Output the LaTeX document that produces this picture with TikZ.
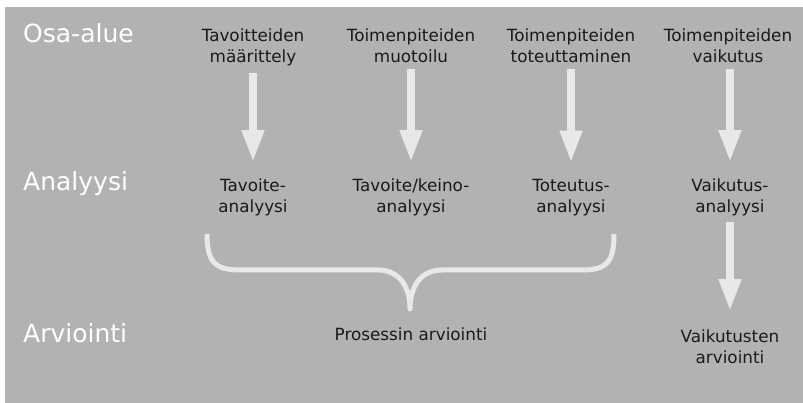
\documentclass[tikz,border=0pt]{standalone}
\usepackage{fontspec}
\setmainfont{DejaVu Sans}
\usetikzlibrary{arrows.meta}
\definecolor{bggray}{HTML}{B2B2B2}
\definecolor{arrowgray}{HTML}{E8E8E8}
\definecolor{txt}{HTML}{1A1A1A}
\tikzset{
  rowlabel/.style={anchor=base west, inner sep=0pt, text=white, font=\fontsize{25}{30}\selectfont},
  cell/.style={anchor=base, inner sep=0pt, align=center, text=txt, font=\fontsize{16.8}{21}\selectfont},
  bigarrow/.style={draw=arrowgray, line width=7.5pt, -{Triangle[width=21pt,length=32pt]}},
  bracepath/.style={draw=arrowgray, line width=5pt, line cap=butt, line join=round}
}
\begin{document}
\begin{tikzpicture}[x=1pt,y=-1pt]
\useasboundingbox (0,0) rectangle (803,403);
\fill[white] (0,0) rectangle (803,403);
\fill[bggray] (5,7) rectangle (803,403);
% row labels
\node[rowlabel] (r1) at (23,43) {Osa-alue};
\node[rowlabel] (r2) at (23,191) {Analyysi};
\node[rowlabel] (r3) at (23,342) {Arviointi};
% top row (base anchor = last line)
\node[cell] (t1) at (253,63) {Tavoitteiden\\määrittely};
\node[cell] (t2) at (411,63) {Toimenpiteiden\\muotoilu};
\node[cell] (t3) at (571,63) {Toimenpiteiden\\toteuttaminen};
\node[cell] (t4) at (728,63) {Toimenpiteiden\\vaikutus};
% analysis row
\node[cell] (a1) at (253,213) {Tavoite-\\analyysi};
\node[cell] (a2) at (411,213) {Tavoite/keino-\\analyysi};
\node[cell] (a3) at (571,213) {Toteutus-\\analyysi};
\node[cell] (a4) at (730,213) {Vaikutus-\\analyysi};
% evaluation row
\node[cell] (e1) at (411,340) {Prosessin arviointi};
\node[cell] (e2) at (730,363) {Vaikutusten\\arviointi};
% arrows
\draw[bigarrow, shorten <=6pt, shorten >=17pt] (t1.south -| a1) -- (a1.north);
\draw[bigarrow, shorten <=6pt, shorten >=17pt] (t2.south -| a2) -- (a2.north);
\draw[bigarrow, shorten <=6pt, shorten >=17pt] (t3.south -| a3) -- (a3.north);
\draw[bigarrow, shorten <=6pt, shorten >=17pt] (t4.south -| a4) -- (a4.north);
\draw[bigarrow, shorten <=5pt, shorten >=18pt] (a4.south) -- (e2.north);
% brace
\draw[bracepath] (207,234) .. controls (207,262) and (215,270) .. (240,270) -- (378,270)
  .. controls (398,270) and (410,285) .. (410,309)
  .. controls (410,285) and (422,270) .. (442,270) -- (582,270)
  .. controls (607,270) and (614,262) .. (614,234);
\end{tikzpicture}
\end{document}
